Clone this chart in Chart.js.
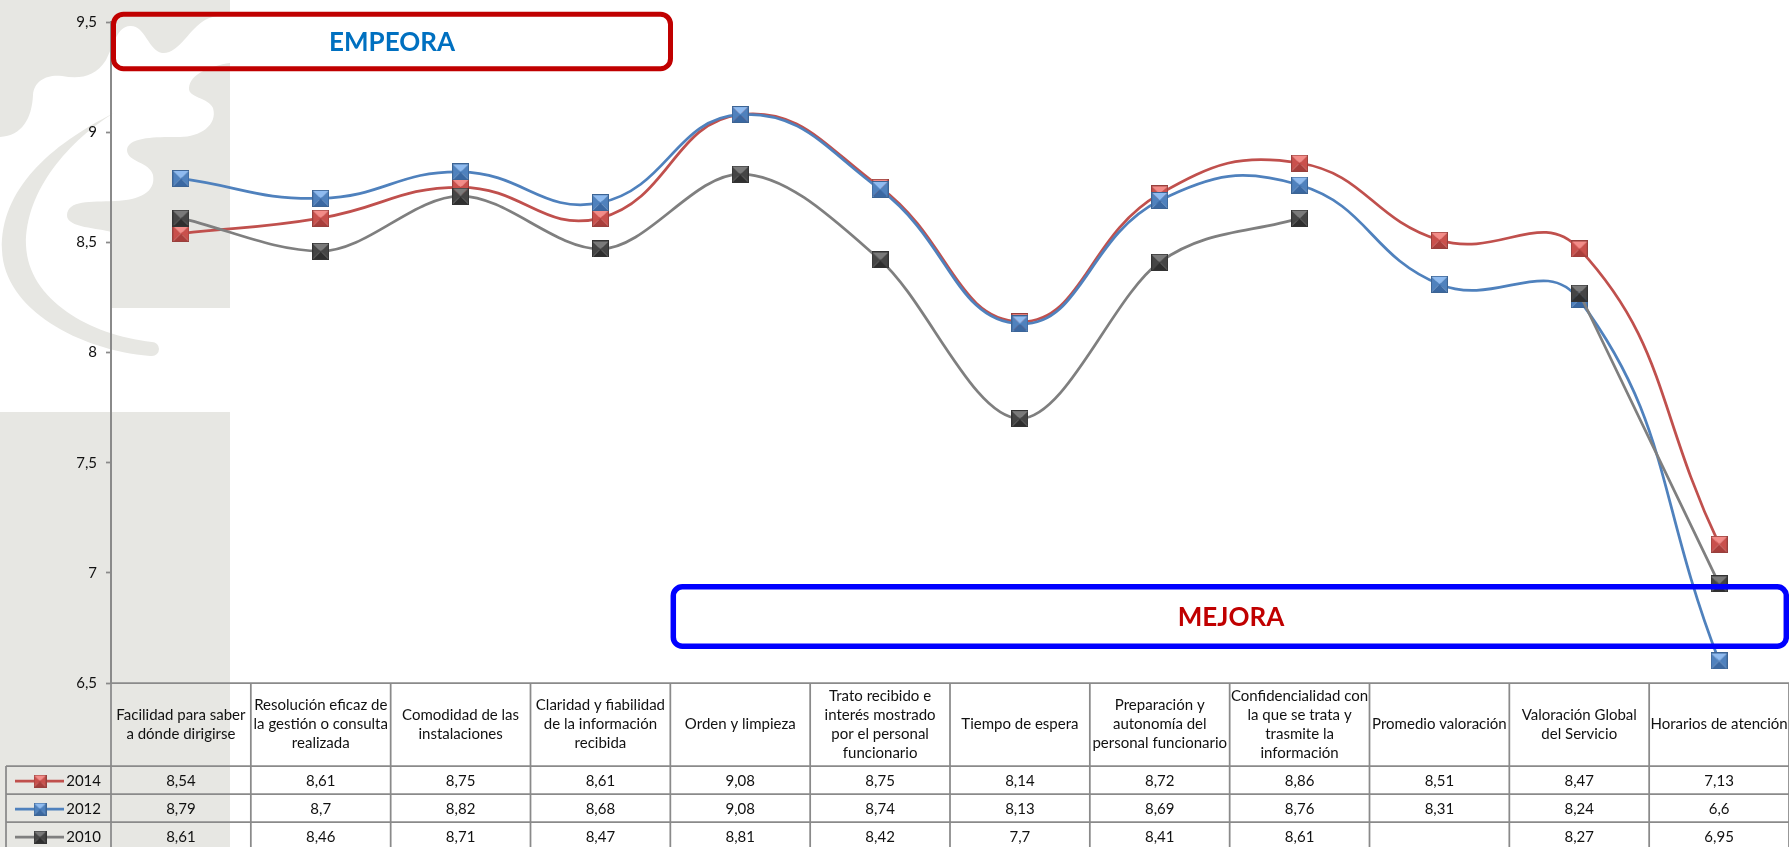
<!DOCTYPE html>
<html>
<head>
<meta charset="utf-8">
<title>Valoración del servicio</title>
<script src="https://cdn.jsdelivr.net/npm/chart.js@4.4.1/dist/chart.umd.min.js"></script>
<style>
  html, body { margin: 0; padding: 0; background: #fff; }
  canvas { display: block; }
</style>
</head>
<body>
<canvas id="valoracionChart" width="1789" height="847"></canvas>
<script>
// categorías (cada una ya partida en líneas para la cabecera de la tabla)
const categories = [
  ['Facilidad para saber', 'a dónde dirigirse'],
  ['Resolución eficaz de', 'la gestión o consulta', 'realizada'],
  ['Comodidad de las', 'instalaciones'],
  ['Claridad y fiabilidad', 'de la información', 'recibida'],
  ['Orden y limpieza'],
  ['Trato recibido e', 'interés mostrado', 'por el personal', 'funcionario'],
  ['Tiempo de espera'],
  ['Preparación y', 'autonomía del', 'personal funcionario'],
  ['Confidencialidad con', 'la que se trata y', 'trasmite la', 'información'],
  ['Promedio valoración'],
  ['Valoración Global', 'del Servicio'],
  ['Horarios de atención']
];

const years = ['2014', '2012', '2010'];
const valores2014 = [8.54, 8.61, 8.75, 8.61, 9.08, 8.75, 8.14, 8.72, 8.86, 8.51, 8.47, 7.13];
const valores2012 = [8.79, 8.7, 8.82, 8.68, 9.08, 8.74, 8.13, 8.69, 8.76, 8.31, 8.24, 6.6];
const valores2010 = [8.61, 8.46, 8.71, 8.47, 8.81, 8.42, 7.7, 8.41, 8.61, null, 8.27, 6.95];

const yTicks = [6.5, 7, 7.5, 8, 8.5, 9, 9.5];

const FONT = 'Lato, "Open Sans", sans-serif';
const GRID = '#8a8a8a';

// marcador cuadrado "piramidal": cara superior clara, laterales medios, inferior oscura
function pyramidMarker(size, light, mid, dark, edge) {
  const c = document.createElement('canvas');
  c.width = c.height = size;
  const g = c.getContext('2d');
  const m = size / 2;
  const tri = (a, b, col) => {
    g.beginPath();
    g.moveTo(a[0], a[1]);
    g.lineTo(b[0], b[1]);
    g.lineTo(m, m);
    g.closePath();
    g.fillStyle = col;
    g.fill();
  };
  tri([0, 0], [size, 0], light);
  tri([0, 0], [0, size], mid);
  tri([size, 0], [size, size], mid);
  tri([0, size], [size, size], dark);
  g.strokeStyle = edge;
  g.lineWidth = 1;
  g.strokeRect(0.5, 0.5, size - 1, size - 1);
  return c;
}

const palettes = [
  { line: '#c0504d', light: '#f48c88', mid: '#c9504c', dark: '#a93e3b', edge: '#98403d' },
  { line: '#4f81bd', light: '#8fbbf0', mid: '#4f81bd', dark: '#3a68a2', edge: '#3c6494' },
  { line: '#7f7f7f', light: '#7a7a7a', mid: '#454545', dark: '#2e2e2e', edge: '#333333' }
];
const markers = palettes.map(p => pyramidMarker(17, p.light, p.mid, p.dark, p.edge));
const smallMarkers = palettes.map(p => pyramidMarker(13, p.light, p.mid, p.dark, p.edge));

const fmt = v => (v === null || v === undefined) ? '' : String(v).replace('.', ',');

// logotipo de fondo en gris claro
function drawWatermark(ctx) {
  const gris = '#e7e7e3';
  ctx.save();
  ctx.fillStyle = gris;
  ctx.fillRect(0, 0, 230, 308);
  ctx.fillRect(0, 412, 230, 435);

  ctx.fillStyle = '#fff';
  ctx.beginPath();
  ctx.moveTo(0, 137);
  ctx.bezierCurveTo(22, 136, 32, 118, 33, 95);
  ctx.bezierCurveTo(34, 80, 48, 74, 62, 76);
  ctx.bezierCurveTo(78, 79, 95, 78, 106, 60);
  ctx.bezierCurveTo(115, 42, 117, 27, 130, 26);
  ctx.bezierCurveTo(145, 25, 148, 50, 162, 53);
  ctx.bezierCurveTo(178, 55, 190, 28, 205, 20);
  ctx.bezierCurveTo(215, 15, 225, 15, 230, 16);
  ctx.lineTo(230, 63);
  ctx.bezierCurveTo(210, 66, 190, 74, 189, 88);
  ctx.bezierCurveTo(188, 98, 208, 97, 213, 108);
  ctx.bezierCurveTo(218, 125, 200, 137, 180, 137);
  ctx.bezierCurveTo(160, 137, 128, 136, 127, 150);
  ctx.bezierCurveTo(127, 162, 150, 162, 153, 175);
  ctx.bezierCurveTo(156, 192, 140, 200, 115, 201);
  ctx.bezierCurveTo(90, 202, 68, 200, 67, 215);
  ctx.bezierCurveTo(66, 228, 100, 228, 111, 232);
  ctx.lineTo(111, 308);
  ctx.lineTo(0, 308);
  ctx.closePath();
  ctx.fill();

  // media luna
  ctx.fillStyle = gris;
  ctx.beginPath();
  ctx.moveTo(114, 113);
  ctx.bezierCurveTo(50, 145, 0, 190, 2, 250);
  ctx.bezierCurveTo(4, 310, 80, 350, 150, 356);
  ctx.arc(152, 349, 7, Math.PI / 2, -Math.PI / 2, true);
  ctx.bezierCurveTo(90, 335, 28, 300, 26, 245);
  ctx.bezierCurveTo(25, 190, 70, 140, 114, 113);
  ctx.fill();
  ctx.restore();
}

const backgroundPlugin = {
  id: 'fondo',
  beforeDraw(chart) {
    const ctx = chart.ctx;
    ctx.save();
    ctx.fillStyle = '#fff';
    ctx.fillRect(0, 0, chart.width, chart.height);
    ctx.restore();
    drawWatermark(ctx);
  }
};

// recuadros EMPEORA / MEJORA
const boxesPlugin = {
  id: 'recuadros',
  afterDatasetsDraw(chart) {
    const ctx = chart.ctx;
    const box = (x, y, w, h, r, lw, stroke, text, color, cx, cy) => {
      ctx.save();
      ctx.beginPath();
      ctx.roundRect(x, y, w, h, r);
      ctx.lineWidth = lw;
      ctx.strokeStyle = stroke;
      ctx.stroke();
      ctx.fillStyle = color;
      ctx.font = 'bold 26px ' + FONT;
      ctx.textAlign = 'center';
      ctx.textBaseline = 'middle';
      ctx.fillText(text, cx, cy);
      ctx.restore();
    };
    box(113.5, 14.2, 557, 54.5, 10, 5, '#c00000', 'EMPEORA', '#0070c0', 392, 42.5);
    box(673.3, 586.8, 1113, 59.5, 9, 5.5, '#0000ff', 'MEJORA', '#c00000', 1231, 618);
  }
};

// tabla de datos bajo el eje X
const tablePlugin = {
  id: 'tablaDatos',
  afterDraw(chart) {
    const ctx = chart.ctx;
    const xs = chart.scales.x;
    const area = chart.chartArea;
    const top = area.bottom;
    const headerBottom = 766;
    const rowH = 28;
    const bottom = chart.height;
    const half = (xs.getPixelForValue(1) - xs.getPixelForValue(0)) / 2;
    const series = chart.data.datasets;

    ctx.save();
    ctx.strokeStyle = GRID;
    ctx.lineWidth = 1.75;
    ctx.beginPath();
    ctx.moveTo(area.left, top);
    ctx.lineTo(chart.width, top);
    for (let k = 0; k < series.length; k++) {
      const y = headerBottom + k * rowH;
      ctx.moveTo(6, y);
      ctx.lineTo(chart.width, y);
    }
    ctx.moveTo(6, headerBottom);
    ctx.lineTo(6, bottom);
    ctx.moveTo(area.left, top);
    ctx.lineTo(area.left, bottom);
    for (let i = 0; i < categories.length; i++) {
      const xr = xs.getPixelForValue(i) + half;
      ctx.moveTo(xr, top);
      ctx.lineTo(xr, bottom);
    }
    ctx.stroke();

    ctx.fillStyle = '#111';
    ctx.textAlign = 'center';
    ctx.textBaseline = 'middle';
    ctx.font = '15px ' + FONT;
    const lh = 19;
    const midHeader = (top + headerBottom) / 2;
    categories.forEach((lines, i) => {
      const cx = xs.getPixelForValue(i);
      const y0 = midHeader - (lines.length - 1) * lh / 2;
      lines.forEach((t, j) => ctx.fillText(t, cx, y0 + j * lh));
    });

    series.forEach((ds, k) => {
      const cy = headerBottom + k * rowH + rowH / 2 + 1;
      ds.data.forEach((v, i) => {
        ctx.fillText(fmt(v), xs.getPixelForValue(i), cy);
      });
      // clave de la serie
      ctx.save();
      ctx.strokeStyle = ds.borderColor;
      ctx.lineWidth = 2.75;
      ctx.beginPath();
      ctx.moveTo(15, cy);
      ctx.lineTo(64, cy);
      ctx.stroke();
      const mk = smallMarkers[k];
      ctx.drawImage(mk, 40 - mk.width / 2, cy - mk.height / 2);
      ctx.restore();
      ctx.textAlign = 'right';
      ctx.fillText(ds.label, 101, cy);
      ctx.textAlign = 'center';
    });
    ctx.restore();
  }
};

const seriesValues = [valores2014, valores2012, valores2010];

const datasets = years.map((year, k) => ({
  label: year,
  data: seriesValues[k],
  borderColor: palettes[k].line,
  backgroundColor: palettes[k].line,
  borderWidth: 2.75,
  tension: 0.45,
  cubicInterpolationMode: k === 2 ? 'monotone' : 'default',
  spanGaps: false,
  pointStyle: markers[k],
  pointRadius: 8,
  pointHoverRadius: 8,
  order: 3 - k,
  clip: false
}));

const ctx = document.getElementById('valoracionChart').getContext('2d');

window.valoracionChart = new Chart(ctx, {
  type: 'line',
  data: { labels: categories, datasets: datasets },
  options: {
    responsive: false,
    animation: false,
    devicePixelRatio: 1,
    layout: { autoPadding: false, padding: { left: 0, right: 0, top: 22, bottom: 164 } },
    plugins: {
      legend: { display: false },
      tooltip: { enabled: false },
      title: { display: false }
    },
    scales: {
      x: {
        display: false,
        offset: true
      },
      y: {
        min: yTicks[0],
        max: yTicks[yTicks.length - 1],
        afterBuildTicks: (scale) => { scale.ticks = yTicks.map(v => ({ value: v })); },
        afterFit: (scale) => { scale.width = 111; },
        grid: {
          drawOnChartArea: false,
          drawTicks: true,
          tickLength: 5,
          tickColor: GRID,
          tickWidth: 1.75
        },
        border: { color: GRID, width: 2 },
        ticks: {
          padding: 9,
          color: '#111',
          font: { family: FONT, size: 15 },
          callback: (v) => fmt(v)
        }
      }
    }
  },
  plugins: [backgroundPlugin, boxesPlugin, tablePlugin]
});
</script>
</body>
</html>
